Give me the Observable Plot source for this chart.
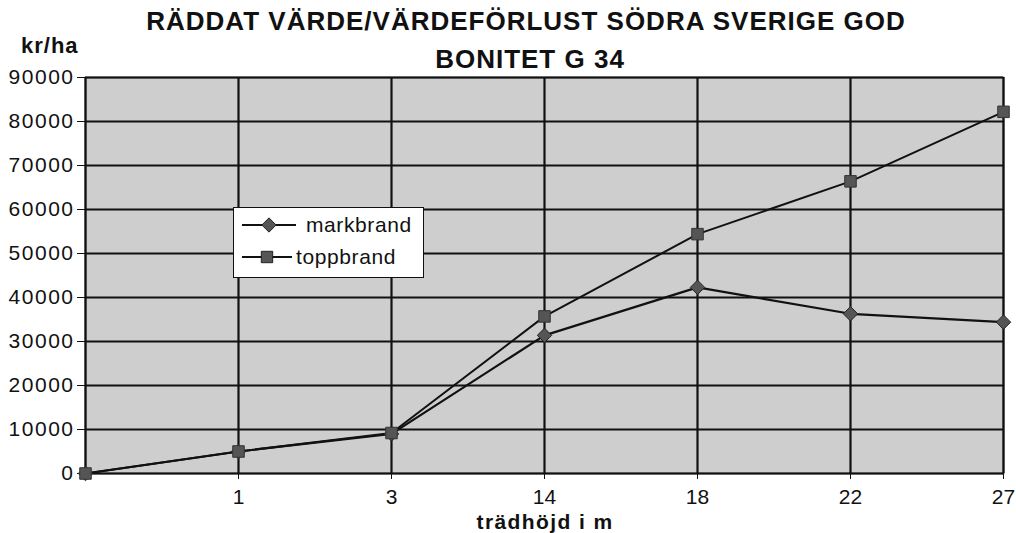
<!DOCTYPE html>
<html>
<head>
<meta charset="utf-8">
<script src="https://cdn.jsdelivr.net/npm/d3@7"></script>
<script src="https://cdn.jsdelivr.net/npm/@observablehq/plot@0.6"></script>
<style>
  html, body { margin: 0; padding: 0; background: white; }
  #wrap { position: relative; width: 1016px; height: 533px; font-family: "Liberation Sans", Arial, sans-serif; }
  .t { position: absolute; font-weight: bold; white-space: nowrap; color: #111; }
  #title1 { left: 526px; top: 6px; transform: translateX(-50%); font-size: 26px; letter-spacing: 1px; }
  #title2 { left: 530px; top: 44px; transform: translateX(-50%); font-size: 26px; letter-spacing: 1px; }
  #ylab { left: 21px; top: 33px; font-size: 22px; letter-spacing: 1px; }
  #xlab { left: 545px; top: 511px; transform: translateX(-50%); font-size: 21px; letter-spacing: 1.4px; line-height: 21px; }
  #legend { position: absolute; left: 233px; top: 207px; width: 189px; height: 69px; background: white; border: 1.5px solid #111; }
  .li { position: absolute; left: 6px; display: flex; align-items: center; font-size: 21px; letter-spacing: 0.6px; color: #111; }
</style>
</head>
<body>
<div id="wrap">
  <div id="chart"></div>
  <div class="t" id="title1"></div>
  <div class="t" id="title2"></div>
  <div class="t" id="ylab"></div>
  <div class="t" id="xlab"></div>
  <div id="legend"></div>
</div>
<script>
const titleLines = ["RÄDDAT VÄRDE/VÄRDEFÖRLUST SÖDRA SVERIGE GOD", "BONITET G 34"];
const yLabel = "kr/ha";
const xLabel = "trädhöjd i m";
const categories = ["0", "1", "3", "14", "18", "22", "27"];
const categoryLabels = ["", "1", "3", "14", "18", "22", "27"];
const markbrand = [0, 5000, 9000, 31400, 42300, 36300, 34400];
const toppbrand = [0, 5000, 9200, 35700, 54400, 66400, 82200];
const yTicks = [0, 10000, 20000, 30000, 40000, 50000, 60000, 70000, 80000, 90000];
const seriesNames = ["markbrand", "toppbrand"];

document.getElementById("title1").textContent = titleLines[0];
document.getElementById("title2").textContent = titleLines[1];
document.getElementById("ylab").textContent = yLabel;
document.getElementById("xlab").textContent = xLabel;

const rowsM = categories.map((c, i) => ({cat: c, v: markbrand[i]}));
const rowsT = categories.map((c, i) => ({cat: c, v: toppbrand[i]}));

const chart = Plot.plot({
  width: 1016,
  height: 533,
  marginTop: 77,
  marginBottom: 60,
  marginLeft: 85,
  marginRight: 13,
  style: { fontFamily: "'Liberation Sans', Arial, sans-serif", fontSize: "21px", background: "transparent", color: "#111" },
  x: { type: "point", domain: categories, padding: 0, label: null, tickSize: 6, tickPadding: 10,
       tickFormat: d => categoryLabels[categories.indexOf(d)] },
  y: { domain: [0, 90000], ticks: yTicks, label: null, tickSize: 8, tickPadding: 3, tickFormat: d => String(d) },
  marks: [
    Plot.frame({ fill: "url(#dither)", stroke: "#111", strokeWidth: 1.5 }),
    Plot.gridX({ stroke: "#111", strokeOpacity: 1, strokeWidth: 2.2 }),
    Plot.gridY(yTicks, { stroke: "#111", strokeOpacity: 1, strokeWidth: 2.2 }),
    Plot.line(rowsM, { x: "cat", y: "v", stroke: "#111", strokeWidth: 2.2 }),
    Plot.line(rowsT, { x: "cat", y: "v", stroke: "#111", strokeWidth: 2 }),
    Plot.dot(rowsM, { x: "cat", y: "v", symbol: "diamond2", r: 6.5, fill: "#555", stroke: "#222", strokeWidth: 1 }),
    Plot.dot(rowsT, { x: "cat", y: "v", symbol: "square", r: 6.5, fill: "#555", stroke: "#333", strokeWidth: 1 })
  ]
});

// y tick labels wider spacing like the reference
d3.select(chart).selectAll("g[aria-label='y-axis tick label'] text").style("letter-spacing", "1.5px");

// dithered fill pattern
const pat = d3.select(chart).insert("defs", ":first-child").append("pattern")
  .attr("id", "dither").attr("width", 2).attr("height", 2).attr("patternUnits", "userSpaceOnUse");
pat.append("rect").attr("width", 2).attr("height", 2).attr("fill", "#e8e8e8");
pat.append("rect").attr("x", 0).attr("y", 0).attr("width", 1).attr("height", 1).attr("fill", "#999999");
pat.append("rect").attr("x", 1).attr("y", 1).attr("width", 1).attr("height", 1).attr("fill", "#d0d0d0");

document.getElementById("chart").appendChild(chart);

// Legend
const legend = document.getElementById("legend");
const legendSymbols = [d3.symbolDiamond2, d3.symbolSquare];
seriesNames.forEach((name, i) => {
  const item = document.createElement("div");
  item.className = "li";
  item.style.top = (i === 0 ? 4 : 36) + "px";
  const w = i === 0 ? 56 : 52;
  const sw = d3.create("svg").attr("width", w + 4).attr("height", 26);
  sw.append("line").attr("x1", 2).attr("x2", w).attr("y1", 13).attr("y2", 13).attr("stroke", "#111").attr("stroke-width", 2);
  sw.append("path").attr("d", d3.symbol(legendSymbols[i], 130)()).attr("transform", `translate(${(2 + w) / 2},13)`)
    .attr("fill", "#555").attr("stroke", "#222");
  item.appendChild(sw.node());
  const tx = document.createElement("span");
  tx.textContent = name;
  tx.style.marginLeft = (i === 0 ? "6px" : "0px");
  item.appendChild(tx);
  legend.appendChild(item);
});
</script>
</body>
</html>
